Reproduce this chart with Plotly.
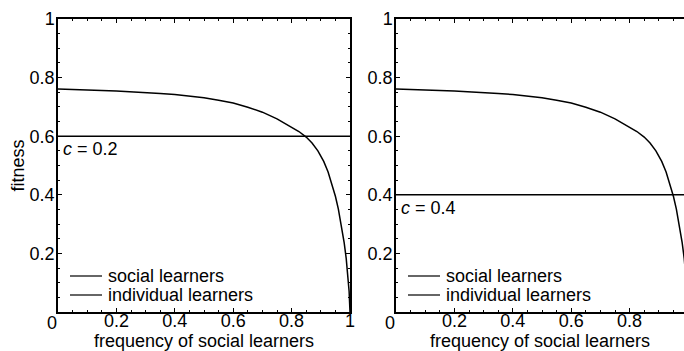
import plotly.graph_objects as go

# Fitness of social learners as a function of their frequency
freq_social = [0.0, 0.05, 0.1, 0.15, 0.2, 0.25, 0.3, 0.35, 0.4, 0.45, 0.5, 0.55,
               0.6, 0.65, 0.7, 0.75, 0.8, 0.825, 0.85, 0.87, 0.89, 0.91, 0.925,
               0.94, 0.95, 0.96, 0.97, 0.98, 0.987, 0.993, 0.997, 1.0]
fitness_social = [0.761, 0.760, 0.758, 0.756, 0.754, 0.752, 0.749, 0.746, 0.742,
                  0.737, 0.731, 0.723, 0.713, 0.699, 0.682, 0.659, 0.632, 0.616,
                  0.597, 0.577, 0.550, 0.514, 0.478, 0.431, 0.395, 0.352, 0.300,
                  0.237, 0.183, 0.125, 0.070, 0.0]

# Fitness of individual learners (constant) for each cost c
cost_values = [0.2, 0.4]
fitness_individual = [0.6, 0.4]
cost_labels = ["<i>c</i> = 0.2", "<i>c</i> = 0.4"]

legend_names = ["social learners", "individual learners"]
x_title = "frequency of social learners"
y_title = "fitness"
y_tick_vals = [0.2, 0.4, 0.6, 0.8, 1.0]
y_tick_text = ["0.2", "0.4", "0.6", "0.8", "1"]
x_tick_vals = [0.2, 0.4, 0.6, 0.8, 1.0]
x_tick_text = ["0.2", "0.4", "0.6", "0.8", "1"]

W, H = 684, 351
FONT = "Liberation Sans, Arial, sans-serif"
FS = 18

# panel geometry in pixels
left_px = [58, 396]
plot_w = 292
top_px, bottom_px = 19, 312

fig = go.Figure()

for i in range(2):
    xa = "x" if i == 0 else "x2"
    ya = "y" if i == 0 else "y2"
    fig.add_trace(go.Scatter(x=freq_social, y=fitness_social, mode="lines",
                             line=dict(color="black", width=1.5),
                             showlegend=False, xaxis=xa, yaxis=ya,
                             name=legend_names[0]))
    fig.add_trace(go.Scatter(x=[0, 1], y=[fitness_individual[i]] * 2, mode="lines",
                             line=dict(color="black", width=1.5),
                             showlegend=False, xaxis=xa, yaxis=ya,
                             name=legend_names[1]))

y_dom = [(H - bottom_px) / H, (H - top_px) / H]
x_dom1 = [left_px[0] / W, (left_px[0] + plot_w) / W]
x_dom2 = [left_px[1] / W, 1.0]
x2_max = (W - left_px[1]) / plot_w

axis_common = dict(
    automargin=False,
    showgrid=False, zeroline=False, showline=True, linecolor="black",
    linewidth=1.5, ticks="inside", ticklen=4, tickwidth=1, tickcolor="black",
    tickfont=dict(family=FONT, size=FS, color="black"),
    minor=dict(ticks="inside", dtick=0.05, ticklen=2.5, tickwidth=1,
               tickcolor="black", showgrid=False),
)

fig.update_layout(
    width=W, height=H,
    margin=dict(l=0, r=0, t=0, b=0, autoexpand=False),
    paper_bgcolor="white", plot_bgcolor="white",
    font=dict(family=FONT, size=FS, color="black"),
    xaxis=dict(domain=x_dom1, range=[0, 1], anchor="y", mirror="ticks",
               tickvals=x_tick_vals, ticktext=x_tick_text, ticklabelstandoff=-8,
               title=dict(text=x_title, standoff=0,
                          font=dict(family=FONT, size=FS)),
               **axis_common),
    yaxis=dict(domain=y_dom, range=[0, 1], anchor="x", mirror="ticks",
               tickvals=y_tick_vals, ticktext=y_tick_text, ticklabelstandoff=-2,
               title=dict(text=y_title, standoff=0,
                          font=dict(family=FONT, size=FS)),
               **axis_common),
    xaxis2=dict(domain=x_dom2, range=[0, x2_max], anchor="y2", mirror="ticks",
                tickvals=x_tick_vals, ticktext=x_tick_text, ticklabelstandoff=-8,
                title=dict(text=x_title, standoff=0,
                           font=dict(family=FONT, size=FS)),
                **axis_common),
    yaxis2=dict(domain=y_dom, range=[0, 1], anchor="x2", mirror=False,
                tickvals=y_tick_vals, ticktext=y_tick_text, ticklabelstandoff=-2,
                **axis_common),
)

shapes = []
annotations = []
for i in range(2):
    xd = "x domain" if i == 0 else "x2 domain"
    yd = "y domain" if i == 0 else "y2 domain"
    xr = "x" if i == 0 else "x2"
    yr = "y" if i == 0 else "y2"
    # cost label under the individual-learner line
    annotations.append(dict(x=0, y=fitness_individual[i], xref=xr, yref=yr,
                            text=cost_labels[i], showarrow=False,
                            xanchor="left", yanchor="top", xshift=3, yshift=-1,
                            font=dict(family=FONT, size=FS, color="black")))
    # origin label
    annotations.append(dict(x=0, y=0, xref=xr, yref=yr, text="0",
                            showarrow=False, xanchor="center", yanchor="top",
                            xshift=-6, yshift=1,
                            font=dict(family=FONT, size=FS, color="black")))
    # legend
    for k, name in enumerate(legend_names):
        ypix = 276 + 19 * k
        yfrac = (bottom_px - ypix) / (bottom_px - top_px)
        span = plot_w if i == 0 else (W - left_px[1])
        x0 = 12 / span
        x1 = 44 / span
        shapes.append(dict(type="line", xref=xd, yref=yd, x0=x0, x1=x1,
                           y0=yfrac, y1=yfrac,
                           line=dict(color="#333333", width=1.5)))
        annotations.append(dict(x=x1, y=yfrac, xref=xd, yref=yd, text=name,
                                showarrow=False, xanchor="left",
                                yanchor="middle", xshift=4,
                                font=dict(family=FONT, size=FS, color="black")))

fig.update_layout(shapes=shapes, annotations=annotations)

fig.write_html("out.html")
